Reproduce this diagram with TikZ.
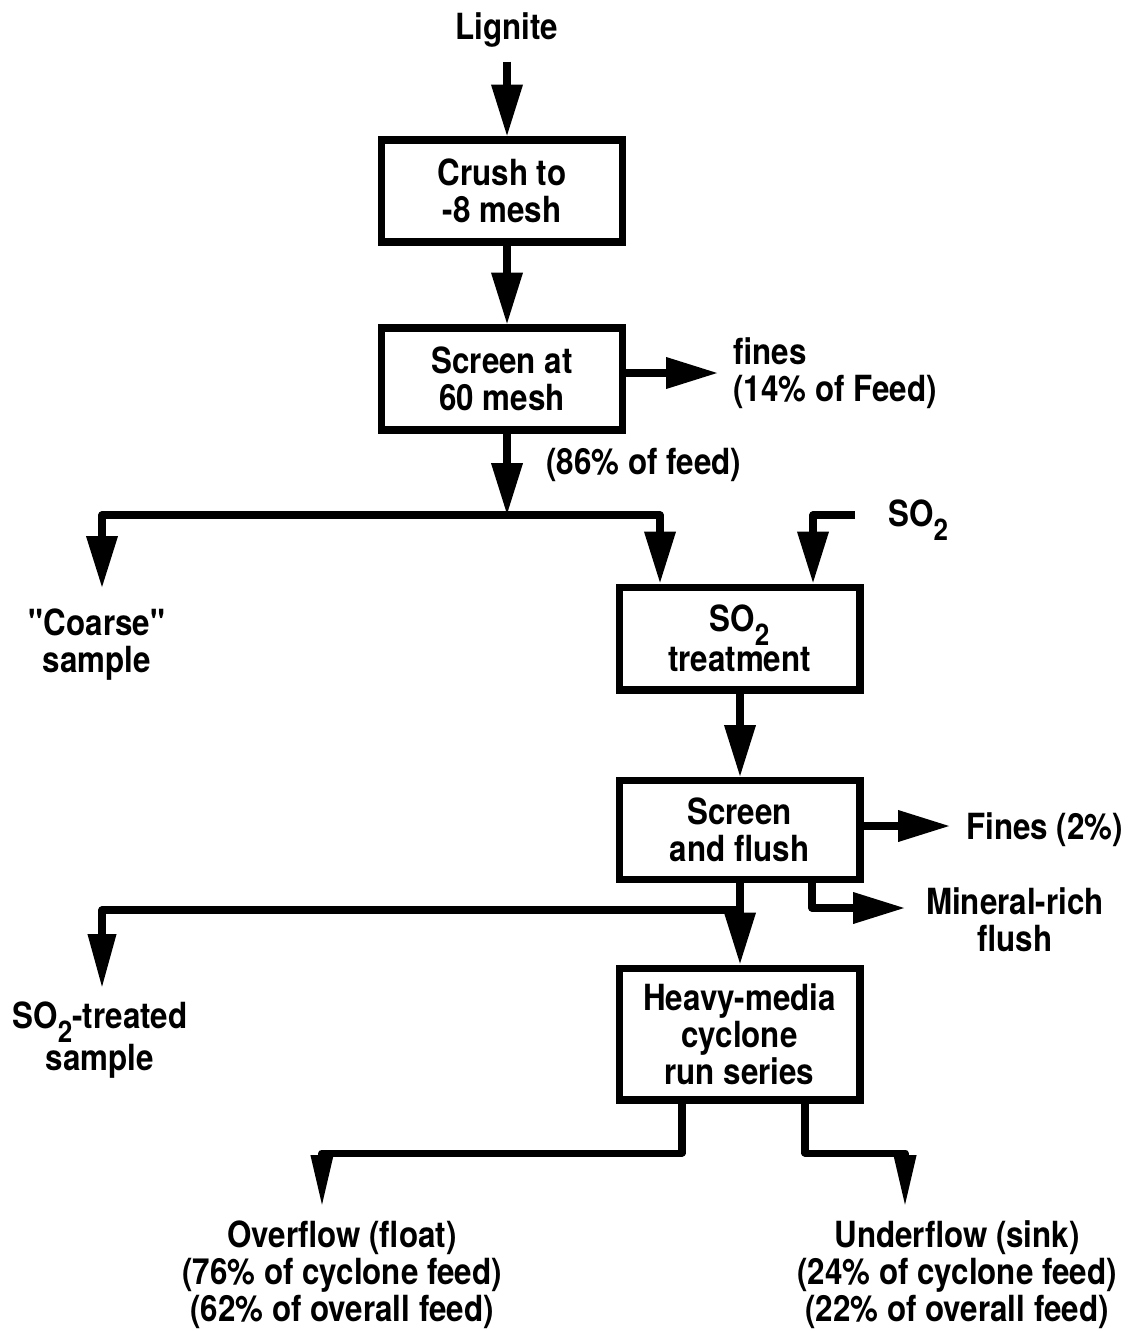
\documentclass[tikz,border=0pt]{standalone}
\usepackage{fontspec}
\setmainfont{TeX Gyre Heros}[FakeStretch=0.87, Ligatures=TeXOff]
\usetikzlibrary{arrows.meta}
\newcommand{\subtwo}{\raisebox{-0.38em}{\fontsize{17}{17}\selectfont 2}}
\begin{document}
\begin{tikzpicture}[x=0.02cm,y=-0.02cm,
  lbl/.style={font=\fontsize{20.5}{21}\selectfont\bfseries, inner sep=0pt, align=center},
  stepbox/.style={lbl, draw, line width=4pt, minimum width=4.84cm},
  ln/.style={line width=4pt, line join=round},
  arr/.style={ln, -{Triangle[length=1.04cm,width=0.6cm]}},
  arrn/.style={ln, -{Triangle[length=1.04cm,width=0.42cm]}},
  arrm/.style={ln, -{Triangle[length=1.08cm,width=0.54cm]}},
]
\useasboundingbox (0,0) rectangle (1129,1331);

% boxes
\node[stepbox, minimum height=2.04cm] (b1) at (502,191) {Crush to\\-8 mesh};
\node[stepbox, minimum height=2.04cm] (b2) at (502,379) {Screen at\\60 mesh};
\node[stepbox, minimum width=4.82cm, minimum height=2.06cm] (b3) at (739.5,638.5) {SO\subtwo\\treatment};
\node[stepbox, minimum width=4.82cm, minimum height=1.98cm] (b4) at (739.5,830) {Screen\\and flush};
\node[stepbox, minimum width=4.82cm, minimum height=2.64cm] (b5) at (739.5,1034) {Heavy-media\\cyclone\\run series};

% labels
\node[lbl] (lig) at (507,30) {Lignite};
\node[lbl, anchor=west, align=left] (f1) at (733,373) {fines\\(14\% of Feed)};
\node[lbl, anchor=west] (p86) at (546,465) {(86\% of feed)};
\node[lbl] (coarse) at (97,645) {"Coarse"\\sample};
\node[lbl, anchor=west] (so2l) at (888,520) {SO\subtwo};
\node[lbl, anchor=west] (f2) at (966,830) {Fines (2\%)};
\node[lbl] (min) at (1015,920) {Mineral-rich\\flush};
\node[lbl] (so2t) at (100,1040) {SO\subtwo-treated\\sample};
\node[lbl] (over) at (342,1275) {Overflow (float)\\(76\% of cyclone feed)\\(62\% of overall feed)};
\node[lbl] (under) at (957,1275) {Underflow (sink)\\(24\% of cyclone feed)\\(22\% of overall feed)};

% helper coordinates
\coordinate (j1) at (507,515);
\coordinate (ctip) at (102,588);
\coordinate (x660) at (660,0);
\coordinate (x813) at (813,0);
\coordinate (so2s) at (855,515);
\coordinate (f1tip) at (718,373);
\coordinate (f2tip) at (950,826);
\coordinate (x812) at (812,0);
\coordinate (mtip) at (905,908);
\coordinate (j2) at (740,910);
\coordinate (stip) at (102,988);
\coordinate (x682) at (682,0);
\coordinate (x805) at (805,0);
\coordinate (ybar) at (0,1153);
\coordinate (otip) at (322,1207);
\coordinate (utip) at (905,1207);

% connectors
\draw[arr] ([yshift=-0.28cm]lig.south) -- (b1.north -| lig);
\draw[arr] (b1.south -| lig) -- (b2.north -| lig);
\draw[arr] (b2.south -| lig) -- (j1);
\draw[arr] (b2.east |- f1tip) -- (f1tip);
\draw[arr] (j1) -| (ctip);
\draw[arr] (j1) -| (b3.north -| x660);
\draw[arr] (so2s) -| (b3.north -| x813);
\draw[arr] (b3.south -| j2) -- (b4.north -| j2);
\draw[arr] (b4.east |- f2tip) -- (f2tip);
\draw[arr] (b4.south -| x812) |- (mtip);
\draw[arr] (b4.south -| j2) -- (b5.north -| j2);
\draw[arrm] (j2) -| (stip);
\draw[arrn] (b5.south -| x682) -- (x682 |- ybar) -| (otip);
\draw[arrn] (b5.south -| x805) -- (x805 |- ybar) -| (utip);
\end{tikzpicture}
\end{document}
